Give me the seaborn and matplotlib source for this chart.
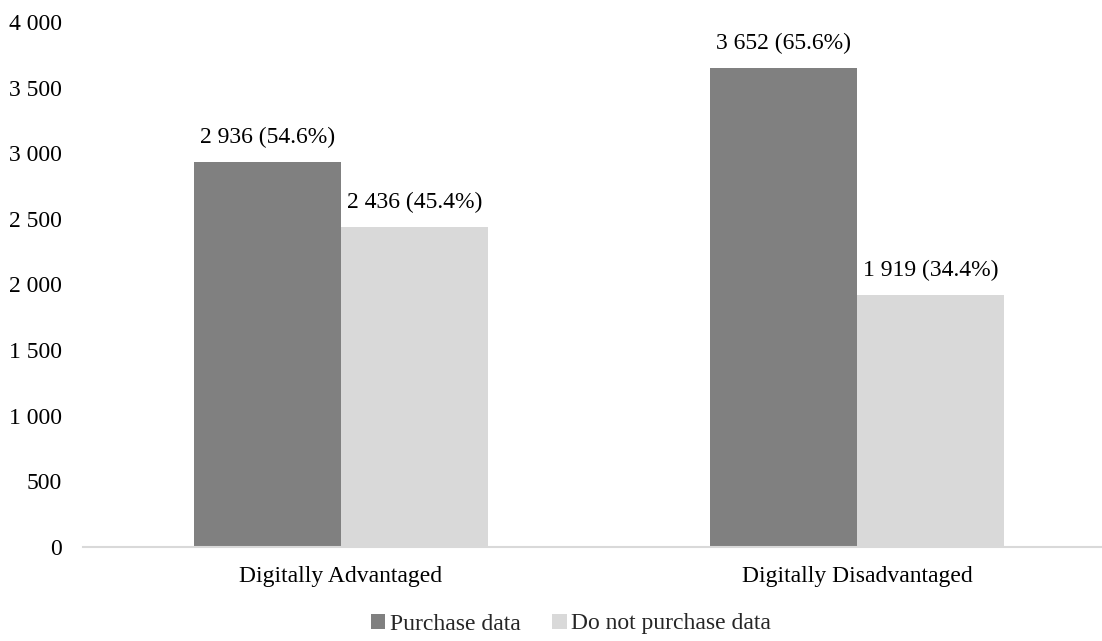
import matplotlib
matplotlib.use("Agg")
import matplotlib.pyplot as plt
import matplotlib.ticker as mticker
import pandas as pd
import seaborn as sns

categories = ["Digitally Advantaged", "Digitally Disadvantaged"]
series = ["Purchase data", "Do not purchase data"]
purchase = [2936, 3652]
no_purchase = [2436, 1919]
purchase_pct = [54.6, 65.6]
no_purchase_pct = [45.4, 34.4]
colors = ["#808080", "#d9d9d9"]

df = pd.DataFrame({
    "category": categories * 2,
    "series": [series[0]] * 2 + [series[1]] * 2,
    "count": purchase + no_purchase,
    "pct": purchase_pct + no_purchase_pct,
})

sns.set_theme(style="white")
plt.rcParams["font.family"] = ["Liberation Serif", "DejaVu Serif"]

fig = plt.figure(figsize=(11.02, 6.41), dpi=100)
ax = fig.add_axes([83 / 1102, 94 / 641, 1032 / 1102, 525 / 641])

sns.barplot(data=df, x="category", y="count", hue="series",
            palette=colors, width=0.57, gap=0, edgecolor="none",
            linewidth=0, ax=ax, legend=True)

ax.set_xlim(-0.5, 1.5)
ax.set_ylim(0, 4000)
ax.yaxis.set_major_locator(mticker.MultipleLocator(500))
ax.yaxis.set_major_formatter(
    mticker.FuncFormatter(lambda v, p: f"{int(v):,}".replace(",", " ")))

def fmt_num(v):
    return f"{v:,}".replace(",", " ")

for container, vals, pcts in zip(ax.containers, [purchase, no_purchase],
                                 [purchase_pct, no_purchase_pct]):
    labels = [f"{fmt_num(v)} ({p:.1f}%)" for v, p in zip(vals, pcts)]
    ax.bar_label(container, labels=labels, padding=10, fontsize=17,
                 color="#000000")

for s in ["top", "right", "left"]:
    ax.spines[s].set_visible(False)
ax.spines["bottom"].set_color("#d9d9d9")
ax.spines["bottom"].set_linewidth(1.5)
ax.set_xlabel("")
ax.set_ylabel("")
ax.tick_params(axis="y", length=0, pad=15, labelsize=17, labelcolor="#000000")
ax.tick_params(axis="x", length=0, pad=14, labelsize=17, labelcolor="#000000")
ax.grid(False)

handles, labs = ax.get_legend_handles_labels()
ax.legend_.remove()
fig.legend(handles, labs, loc="center", bbox_to_anchor=(571 / 1102, 17 / 641),
           ncol=2, frameon=False, fontsize=17, handlelength=0.6,
           handleheight=0.6, handletextpad=0.2, columnspacing=1.35)

fig.savefig("out.png", dpi=100)
